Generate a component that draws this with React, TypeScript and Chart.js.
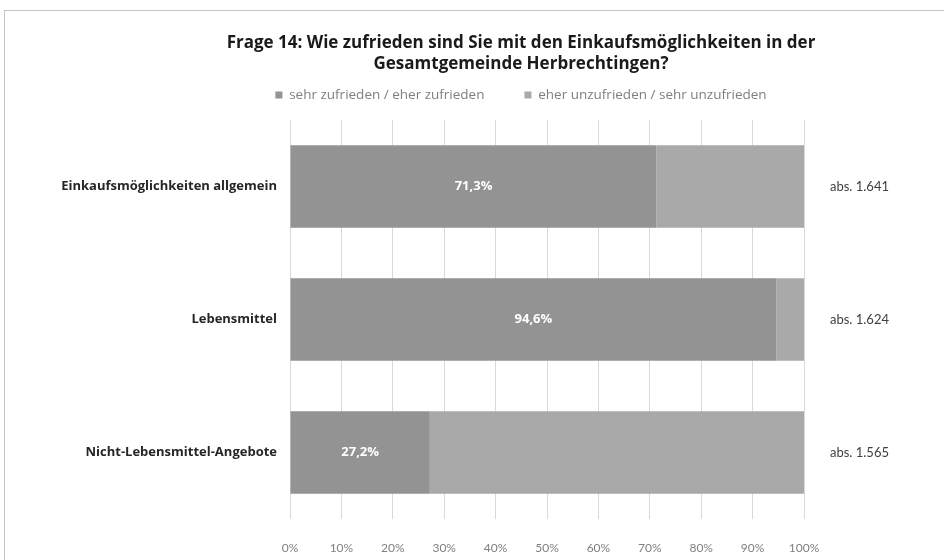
import React, { useEffect, useRef } from "react";
import { Chart, registerables } from "chart.js";

Chart.register(...registerables);

const titleLines = [
  "Frage 14: Wie zufrieden sind Sie mit den Einkaufsmöglichkeiten in der",
  "Gesamtgemeinde Herbrechtingen?",
];
const categories = [
  "Einkaufsmöglichkeiten allgemein",
  "Lebensmittel",
  "Nicht-Lebensmittel-Angebote",
];
const absLabels = ["abs. 1.641", "abs. 1.624", "abs. 1.565"];
const seriesNames = [
  "sehr zufrieden / eher zufrieden",
  "eher unzufrieden / sehr unzufrieden",
];
const satisfied = [71.3, 94.6, 27.2];
const unsatisfied = [28.7, 5.4, 72.8];
const xTicks = [0, 10, 20, 30, 40, 50, 60, 70, 80, 90, 100];

const FONT = "'Open Sans', Lato, sans-serif";
const FONT2 = "Lato, 'Open Sans', sans-serif";

const headerTweaks = {
  id: "headerTweaks",
  beforeInit(chart: any) {
    const lg = chart.legend;
    if (!lg) return;
    const orig = lg.fit;
    lg.fit = function () {
      orig.call(this);
      this.height += 8.25;
    };
  },
  afterLayout(chart: any) {
    // centre title and legend over the plot region like the original
    if (chart.titleBlock) chart.titleBlock.left += 98;
    if (chart.legend) chart.legend.left += 98;
  },
};

const valueLabels = {
  id: "valueLabels",
  afterDatasetsDraw(chart: any) {
    const ctx = chart.ctx;
    const meta = chart.getDatasetMeta(0);
    ctx.save();
    ctx.font = `bold 13px ${FONT}`;
    ctx.fillStyle = "#ffffff";
    ctx.textAlign = "center";
    ctx.textBaseline = "middle";
    meta.data.forEach((bar: any, i: number) => {
      const p = bar.getProps(["x", "y", "base"], true);
      const cx = (p.x + p.base) / 2;
      ctx.fillText(satisfied[i].toFixed(1).replace(".", ",") + "%", cx, p.y);
    });
    ctx.restore();
  },
};

export default function App() {
  const ref = useRef<HTMLCanvasElement>(null);
  useEffect(() => {
    if (!ref.current) return;
    const chart = new Chart(ref.current, {
      type: "bar",
      data: {
        labels: categories,
        datasets: [
          {
            label: seriesNames[0],
            data: satisfied,
            backgroundColor: "#939393",
            categoryPercentage: 0.62,
            barPercentage: 1,
          },
          {
            label: seriesNames[1],
            data: unsatisfied,
            backgroundColor: "#a9a9a9",
            categoryPercentage: 0.62,
            barPercentage: 1,
          },
        ],
      },
      options: {
        indexAxis: "y",
        responsive: false,
        animation: false,
        layout: { padding: { left: 0, right: 0, top: 10, bottom: 0 } },
        plugins: {
          title: {
            display: true,
            text: titleLines,
            color: "#1a1a1a",
            font: { family: FONT, size: 17, weight: "bold", lineHeight: 1.25 },
            padding: { top: 22.4, bottom: -26.65 },
          },
          legend: {
            display: true,
            labels: {
              color: "#7f7f7f",
              font: { family: FONT, size: 13.5 },
              boxWidth: 7,
              boxHeight: 7,
              padding: 40,
            },
          },
          tooltip: { enabled: false },
        },
        scales: {
          x: {
            stacked: true,
            min: 0,
            max: 100,
            afterBuildTicks(scale: any) {
              scale.ticks = xTicks.map((v) => ({ value: v }));
            },
            afterFit(scale: any) {
              scale.height = 41;
            },
            ticks: {
              callback: (v: any) => v + "%",
              color: "#808080",
              font: { family: FONT2, size: 12 },
              padding: 22,
              maxRotation: 0,
            },
            grid: { color: "#d9d9d9", drawTicks: false },
            border: { display: false },
          },
          y: {
            stacked: true,
            position: "left",
            afterFit(scale: any) {
              scale.width = 290;
            },
            ticks: {
              color: "#262626",
              font: { family: FONT, size: 13, weight: "bold" },
              padding: 13,
            },
            grid: { display: false, drawTicks: false },
            border: { display: false },
          },
          y2: {
            type: "category",
            position: "right",
            labels: absLabels,
            offset: true,
            afterFit(scale: any) {
              scale.width = 140;
            },
            ticks: {
              color: "#404040",
              font: { family: FONT2, size: 13 },
              padding: 26,
            },
            grid: { display: false, drawTicks: false },
            border: { display: false },
          },
        },
      },
      plugins: [headerTweaks, valueLabels],
    } as any);
    return () => chart.destroy();
  }, []);

  return (
    <div style={{ position: "absolute", left: 0, top: 0, width: 944, height: 560, background: "#fff" }}>
      <canvas ref={ref} width={944} height={560} style={{ display: "block" }} />
      <div
        style={{
          position: "absolute",
          left: 4,
          top: 10,
          right: 0,
          bottom: 0,
          borderTop: "1px solid #c4c4c4",
          borderLeft: "1px solid #c4c4c4",
          pointerEvents: "none",
        }}
      />
    </div>
  );
}
